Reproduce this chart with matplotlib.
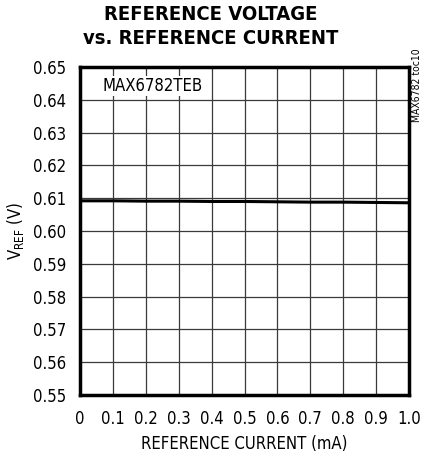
import matplotlib
matplotlib.use("Agg")
import matplotlib.pyplot as plt

# datos
current_ma = [0.0, 0.1, 0.2, 0.3, 0.4, 0.5, 0.6, 0.7, 0.8, 0.9, 1.0]
vref_v = [0.6092, 0.6092, 0.6091, 0.6091, 0.6090, 0.6090, 0.6089, 0.6088, 0.6088, 0.6087, 0.6086]
xticks = [0, 0.1, 0.2, 0.3, 0.4, 0.5, 0.6, 0.7, 0.8, 0.9, 1.0]
xlabels = ["0", "0.1", "0.2", "0.3", "0.4", "0.5", "0.6", "0.7", "0.8", "0.9", "1.0"]
yticks = [0.55, 0.56, 0.57, 0.58, 0.59, 0.60, 0.61, 0.62, 0.63, 0.64, 0.65]

plt.rcParams['font.family'] = ['DejaVu Sans']
plt.rcParams['font.stretch'] = 'condensed'

fig = plt.figure(figsize=(4.22, 4.58), dpi=100)
ax = fig.add_axes([0.19, 0.1376, 0.779, 0.7161])

ax.plot(current_ma, vref_v, color="black", linewidth=2.2)

ax.set_xlim(0, 1.0)
ax.set_ylim(0.55, 0.65)
ax.set_xticks(xticks)
ax.set_xticklabels(xlabels)
ax.set_yticks(yticks)
ax.set_yticklabels(["%.2f" % v for v in yticks])
ax.tick_params(length=0, labelsize=12, pad=11)
ax.tick_params(axis='y', pad=10)
ax.grid(True, color="#3a3a3a", linewidth=0.9)
for s in ax.spines.values():
    s.set_linewidth(2.5)

ax.set_xlabel("REFERENCE CURRENT (mA)", fontsize=12, labelpad=5)
ax.set_ylabel("V$_{\\mathregular{REF}}$ (V)", fontsize=12, labelpad=5)
ax.text(0.067, 0.6442, "MAX6782TEB", fontsize=12, va="center",
        bbox=dict(facecolor="white", edgecolor="none", pad=1))

fig.text(0.5, 0.988, "REFERENCE VOLTAGE\nvs. REFERENCE CURRENT", ha="center", va="top",
         fontsize=14.5, fontweight="bold", linespacing=1.3)
fig.text(0.987, 0.814, "MAX6782 toc10", rotation=90, fontsize=7.5, ha="center", va="center")

fig.savefig("out.png", dpi=100)
